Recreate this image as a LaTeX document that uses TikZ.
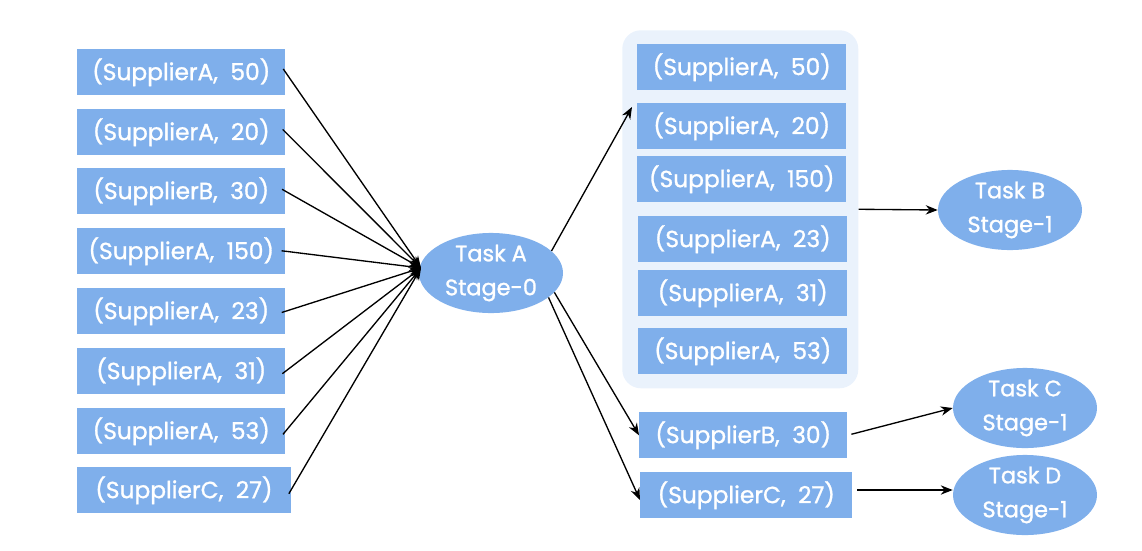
\documentclass[tikz,border=0pt]{standalone}
\usepackage{fontspec}
\setmainfont{Poppins}[FakeBold=1.2]
\usetikzlibrary{arrows.meta,shapes.geometric}
\definecolor{boxblue}{HTML}{7FAFEB}
\definecolor{groupbg}{HTML}{EAF2FC}
\tikzset{
  every picture/.style={x=0.75pt,y=-0.75pt},
  sbox/.style={fill=boxblue, draw=none, anchor=north west, minimum height=34.5pt, inner sep=0pt,
     text=white, font=\fontsize{17.5}{20}\selectfont},
  task/.style={ellipse, fill=boxblue, draw=none, minimum width=108pt, minimum height=56pt, inner sep=0pt,
     text=white, align=center, font=\fontsize{16.8}{25.5}\selectfont},
  arr/.style={-{Stealth[length=9pt,width=7pt]}, line width=1pt, black},
  group/.style={fill=groupbg, draw=none, rounded corners=14pt}
}
\begin{document}
\begin{tikzpicture}
\useasboundingbox (0,0) rectangle (1142,550);
% group background
\node[group, anchor=north west, minimum width=177pt, minimum height=268.5pt, inner sep=0pt] (G) at (622,30) {};
% left boxes
\node[sbox, minimum width=156pt] (b1) at (77,49)  {(SupplierA,\ \ 50)};
\node[sbox, minimum width=156pt] (b2) at (77,109) {(SupplierA,\ \ 20)};
\node[sbox, minimum width=156pt] (b3) at (77,168) {(SupplierB,\ \ 30)};
\node[sbox, minimum width=156pt] (b4) at (77,228) {(SupplierA,\ \ 150)};
\node[sbox, minimum width=156pt] (b5) at (77,288) {(SupplierA,\ \ 23)};
\node[sbox, minimum width=156pt] (b6) at (77,348) {(SupplierA,\ \ 31)};
\node[sbox, minimum width=156pt] (b7) at (77,408) {(SupplierA,\ \ 53)};
\node[sbox, minimum width=160pt] (b8) at (77,467) {(SupplierC,\ \ 27)};
% right group boxes
\node[sbox, minimum width=156.75pt] (r1) at (637,44)  {(SupplierA,\ \ 50)};
\node[sbox, minimum width=156.75pt] (r2) at (637,103) {(SupplierA,\ \ 20)};
\node[sbox, minimum width=156.75pt] (r3) at (637,156) {(SupplierA,\ \ 150)};
\node[sbox, minimum width=156.75pt] (r4) at (638,216) {(SupplierA,\ \ 23)};
\node[sbox, minimum width=156.75pt] (r5) at (638,270) {(SupplierA,\ \ 31)};
\node[sbox, minimum width=156.75pt] (r6) at (638,328) {(SupplierA,\ \ 53)};
% lower boxes
\node[sbox, minimum width=156pt] (c1) at (639,412) {(SupplierB,\ \ 30)};
\node[sbox, minimum width=159pt] (c2) at (640,472) {(SupplierC,\ \ 27)};
% tasks
\node[task] (A) at (491,273) {Task A\\Stage-0};
\node[task] (B) at (1010,210) {Task B\\Stage-1};
\node[task] (C) at (1025,408) {Task C\\Stage-1};
\node[task] (D) at (1025,495) {Task D\\Stage-1};
% connectors
\coordinate (hub) at (421,268);
\foreach \b in {b1,b2,b3,b4,b5,b6,b7,b8}{
  \draw[arr, shorten <=-3pt] (\b.east) -- (hub);
}
\coordinate (gin) at (632,107);
\draw[arr] (A.20) -- (gin);
\draw[arr] (G.east) -- (B.west);
\draw[arr] (A.-17) -- (c1.west);
\coordinate (c2in) at (640,500);
\draw[arr] (A.-23) -- (c2in);
\draw[arr, shorten <=3pt] (c1.east) -- (C.west);
\coordinate (c2out) at (857,490);
\draw[arr] (c2out) -- (D.west |- c2out);
\end{tikzpicture}
\end{document}
